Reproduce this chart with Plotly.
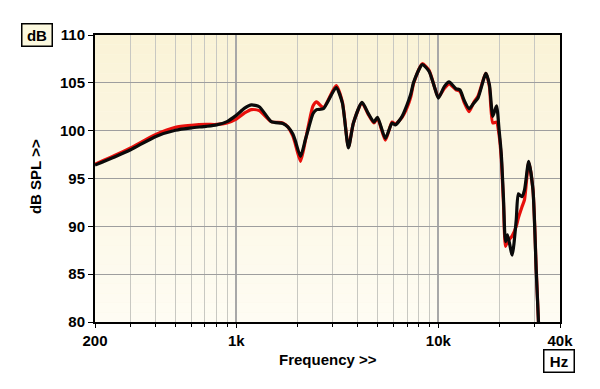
import plotly.graph_objects as go

# ---- data ----
freq_hz = [200, 250, 300, 400, 500, 600, 710, 800, 900, 1000, 1100, 1190, 1300, 1490,
           1700, 1800, 1900, 1950, 2080, 2200, 2280, 2400, 2500, 2700, 3120, 3350, 3590,
           3800, 4190, 4500, 4800, 5000, 5470, 5900, 6130, 6620, 7000, 7300, 7560, 8330,
           9000, 9560, 10000, 10700, 11300, 12200, 12800, 13400, 14200, 15000, 15700,
           17200, 17900, 18600, 19400, 20000, 20500, 21000, 21500, 22000, 23200, 24300,
           24900, 25900, 26700, 28000, 29400, 30500, 31300]

black_db = [96.4, 97.25, 98.0, 99.4, 100.05, 100.3, 100.45, 100.6, 100.95, 101.6, 102.35,
            102.7, 102.5, 100.95, 100.75, 100.4, 99.7, 99.1, 97.3, 99.1, 100.25, 101.8,
            102.2, 102.3, 104.5, 102.9, 98.2, 100.8, 102.96, 101.8, 100.9, 101.4, 99.2,
            100.8, 100.6, 101.5, 102.7, 103.8, 105.1, 106.9, 106.2, 104.6, 103.4, 104.6,
            105.1, 104.4, 104.25, 103.2, 102.3, 102.9, 103.4, 106.0, 104.8, 101.5, 102.6,
            100.0, 97.5, 93.0, 88.4, 89.1, 87.0, 90.7, 93.4, 93.1, 93.8, 96.8, 93.8, 85.4,
            80.0]

red_db = [96.5, 97.4, 98.2, 99.6, 100.35, 100.55, 100.65, 100.65, 100.8, 101.2, 101.85,
          102.2, 102.1, 100.95, 100.8, 100.4, 99.5, 98.8, 96.8, 99.0, 100.6, 102.6, 103.0,
          102.4, 104.7, 103.0, 98.3, 100.8, 102.9, 101.7, 100.8, 101.3, 99.0, 100.9, 100.7,
          101.4, 102.4, 103.5, 105.0, 107.0, 106.3, 104.6, 103.5, 104.4, 104.9, 104.3,
          104.1, 103.0, 102.0, 103.0, 103.6, 106.0, 104.6, 100.8, 100.9, 99.5, 97.0, 92.5,
          87.9, 88.4, 89.0, 90.0, 90.9, 92.0, 92.8, 96.7, 93.8, 85.6, 80.0]

x_major_ticks = [200, 1000, 10000, 40000]
x_major_labels = ["200", "1k", "10k", "40k"]
x_minor_ticks = [300, 400, 500, 600, 700, 800, 900,
                 2000, 3000, 4000, 5000, 6000, 7000, 8000, 9000, 20000, 30000]
y_ticks = [80, 85, 90, 95, 100, 105, 110]

FONT = "Arial, Liberation Sans, sans-serif"

fig = go.Figure()
fig.add_trace(go.Scatter(x=freq_hz, y=red_db, mode="lines",
                         line=dict(color="#E8100C", width=3.2, shape="spline", smoothing=0.6),
                         showlegend=False, hoverinfo="skip"))
fig.add_trace(go.Scatter(x=freq_hz, y=black_db, mode="lines",
                         line=dict(color="#0A0A0A", width=3.2, shape="spline", smoothing=0.6),
                         showlegend=False, hoverinfo="skip"))

# gradient background bands (paper coordinates, below grid)
shapes = []
n = 30
top = (250, 243, 215)
bot = (254, 252, 243)
for i in range(n):
    t = i / (n - 1)
    c = tuple(round(top[k] + (bot[k] - top[k]) * t) for k in range(3))
    shapes.append(dict(type="rect", xref="paper", yref="paper",
                       x0=0, x1=1, y0=1 - (i + 1) / n, y1=1 - i / n,
                       fillcolor="rgb(%d,%d,%d)" % c, line=dict(width=0), layer="below"))

# page body has an 8px default margin, so the figure is offset by 8px
fig.update_layout(
    width=600, height=389,
    margin=dict(l=87, r=48, t=27, b=75),
    paper_bgcolor="white",
    plot_bgcolor="#FCF8E6",
    shapes=shapes,
    font=dict(family=FONT, size=15, color="black", weight="bold"),
    xaxis=dict(type="log", range=[2.30103, 4.60206],
               tickvals=x_major_ticks, ticktext=x_major_labels,
               ticks="outside", ticklen=4, tickcolor="black", tickwidth=1,
               showgrid=True, gridcolor="#A8A8A8", gridwidth=2,
               minor=dict(tickvals=x_minor_ticks, ticks="outside", ticklen=3,
                          tickcolor="black", showgrid=True, gridcolor="#C8C8C2", gridwidth=1),
               showline=True, linecolor="black", linewidth=2, mirror=True,
               tickfont=dict(family=FONT, size=15, color="black", weight="bold"),
               zeroline=False, fixedrange=True),
    yaxis=dict(range=[80, 110], tickvals=y_ticks,
               ticks="outside", ticklen=5, tickcolor="black", tickwidth=1,
               showgrid=True, gridcolor="#9E9E9E", gridwidth=1,
               showline=True, linecolor="black", linewidth=2, mirror=True,
               tickfont=dict(family=FONT, size=15, color="black", weight="bold"),
               zeroline=False, fixedrange=True),
    annotations=[
        dict(text="Frequency >>", xref="paper", yref="paper", x=0.5, y=-0.132,
             xanchor="center", yanchor="middle", showarrow=False,
             font=dict(family=FONT, size=15, color="black", weight="bold")),
        dict(text="dB SPL >>", xref="paper", yref="paper", x=-0.129, y=0.505,
             xanchor="center", yanchor="middle", showarrow=False, textangle=-90,
             font=dict(family=FONT, size=15, color="black", weight="bold")),
        dict(text="dB", xref="paper", yref="paper", x=-0.1237, y=1.0017,
             xanchor="center", yanchor="middle", showarrow=False,
             width=27, height=19, bgcolor="#FCF9DF", bordercolor="black", borderwidth=1.5,
             borderpad=1,
             font=dict(family=FONT, size=15, color="black", weight="bold")),
        dict(text="Hz", xref="paper", yref="paper", x=0.9968, y=-0.137,
             xanchor="center", yanchor="middle", showarrow=False,
             width=27, height=19, bgcolor="white", bordercolor="black", borderwidth=1.5,
             borderpad=1,
             font=dict(family=FONT, size=15, color="black", weight="bold")),
    ],
)

fig.write_html("out.html")
